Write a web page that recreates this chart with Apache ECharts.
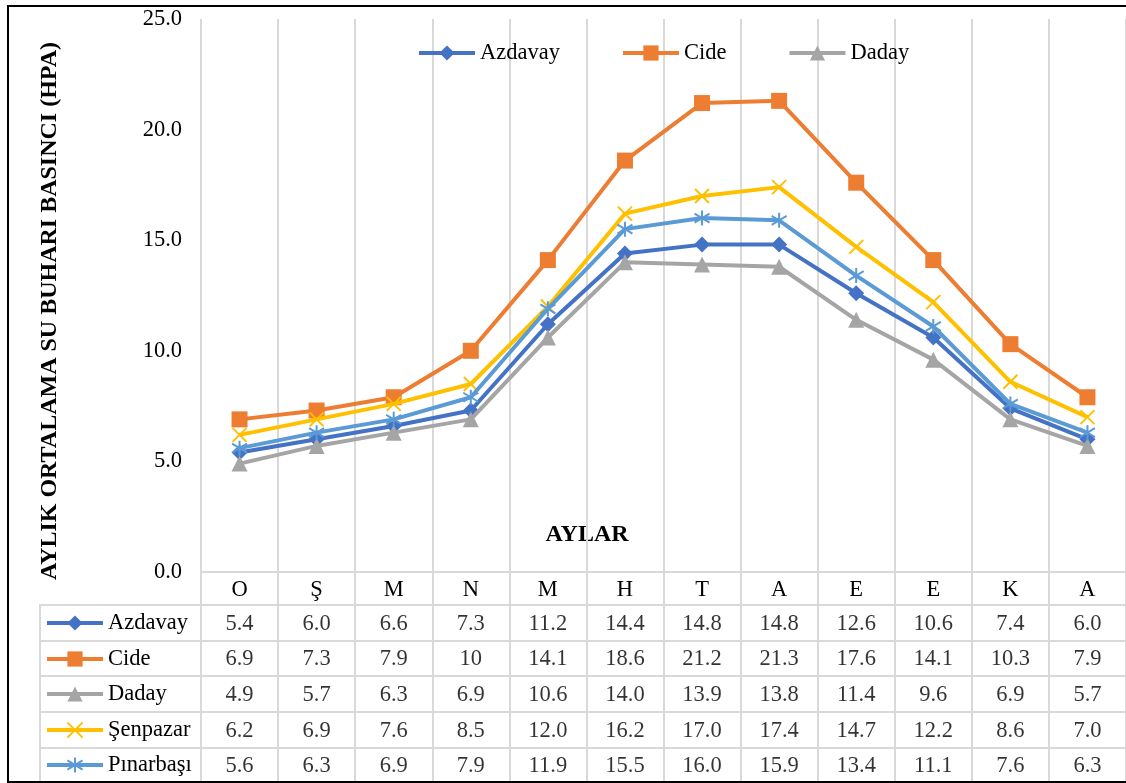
<!DOCTYPE html>
<html>
<head>
<meta charset="utf-8">
<script src="https://cdn.jsdelivr.net/npm/echarts@6/dist/echarts.min.js"></script>
<style>
html,body{margin:0;padding:0;background:#fff;}
#main{width:1126px;height:783px;}
</style>
</head>
<body>
<div id="main"></div>
<script>
// ---- data ----
var months = ['O', 'Ş', 'M', 'N', 'M', 'H', 'T', 'A', 'E', 'E', 'K', 'A'];
var seriesNames = ['Azdavay', 'Cide', 'Daday', 'Şenpazar', 'Pınarbaşı'];
var azdavay   = ['5.4', '6.0', '6.6', '7.3', '11.2', '14.4', '14.8', '14.8', '12.6', '10.6', '7.4', '6.0'];
var cide      = ['6.9', '7.3', '7.9', '10', '14.1', '18.6', '21.2', '21.3', '17.6', '14.1', '10.3', '7.9'];
var daday     = ['4.9', '5.7', '6.3', '6.9', '10.6', '14.0', '13.9', '13.8', '11.4', '9.6', '6.9', '5.7'];
var senpazar  = ['6.2', '6.9', '7.6', '8.5', '12.0', '16.2', '17.0', '17.4', '14.7', '12.2', '8.6', '7.0'];
var pinarbasi = ['5.6', '6.3', '6.9', '7.9', '11.9', '15.5', '16.0', '15.9', '13.4', '11.1', '7.6', '6.3'];
var yTitle = 'AYLIK ORTALAMA SU BUHARI BASINCI (HPA)';
var xTitle = 'AYLAR';

// ---- styling ----
var FONT = 'Liberation Serif';
var FS = 22.5;
var GRID_C = '#d9d9d9';
var allValues = [azdavay, cide, daday, senpazar, pinarbasi];
var colors = ['#4472C4', '#ED7D31', '#A5A5A5', '#FFC000', '#5B9BD5'];
var symbols = ['diamond', 'rect', 'triangle',
  'path://M0,0L10,10M10,0L0,10',
  'path://M5,0L5,10M0,2L10,8M0,8L10,2'];
var symbolSizes = [16, 16, 16, 14, 15];

var chart = echarts.init(document.getElementById('main'), null, {renderer: 'canvas'});

var lineSeries = seriesNames.map(function (name, k) {
  var strokeOnly = k >= 3;
  return {
    name: name,
    type: 'line',
    xAxisIndex: 0,
    yAxisIndex: 0,
    data: allValues[k].map(Number),
    symbol: symbols[k],
    symbolSize: symbolSizes[k],
    showAllSymbol: true,
    lineStyle: {width: 4, color: colors[k]},
    itemStyle: strokeOnly ? {color: colors[k], borderColor: colors[k], borderWidth: 2} : {color: colors[k], borderWidth: 0},
    z: 3 + k,
    animation: false
  };
});

var tableData = [];
allValues.forEach(function (arr, r) {
  arr.forEach(function (v, i) { tableData.push([i, r, v]); });
});

var rowCenters = [623, 659, 694, 730, 765];
var legendBase = {
  itemWidth: 56, itemHeight: 19, padding: 0, itemGap: 61,
  lineStyle: {width: 4},
  textStyle: {fontFamily: FONT, fontSize: FS, color: '#000', lineHeight: 26}
};
var legends = [Object.assign({}, legendBase, {
  data: ['Azdavay', 'Cide', 'Daday'], left: 417, top: 53 - 13
})];
seriesNames.forEach(function (n, k) {
  legends.push(Object.assign({}, legendBase, {
    data: [n], left: 45, top: rowCenters[k] - 13
  }));
});

var option = {
  backgroundColor: '#fff',
  animation: false,
  legend: legends,
  grid: [
    {left: 201, right: -1, top: 19, height: 553, containLabel: false},
    {left: 201, right: -1, top: 605, height: 178, show: true, borderColor: GRID_C, borderWidth: 2, backgroundColor: 'transparent'},
    {left: 40, width: 161, top: 605, height: 178, show: true, borderColor: GRID_C, borderWidth: 2, backgroundColor: 'transparent'}
  ],
  xAxis: [
    {
      gridIndex: 0, type: 'category', data: months, boundaryGap: true,
      axisLine: {show: true, lineStyle: {color: GRID_C, width: 2}},
      axisTick: {show: true, length: 33, interval: 0, lineStyle: {color: GRID_C, width: 2}},
      axisLabel: {interval: 0, margin: 7, color: '#000', fontFamily: FONT, fontSize: FS},
      splitLine: {show: true, interval: 0, lineStyle: {color: GRID_C, width: 2}}
    },
    {
      gridIndex: 1, type: 'category', data: months, boundaryGap: true,
      axisLine: {show: false}, axisTick: {show: false}, axisLabel: {show: false},
      splitLine: {show: true, interval: 0, lineStyle: {color: GRID_C, width: 2}}
    },
    {
      gridIndex: 2, type: 'category', data: ['n'], show: false
    }
  ],
  yAxis: [
    {
      gridIndex: 0, type: 'value', min: 0, max: 25, interval: 5,
      axisLine: {show: false}, axisTick: {show: false},
      splitLine: {show: false},
      axisLabel: {margin: 19, color: '#000', fontFamily: FONT, fontSize: FS,
        formatter: function (v) { return v.toFixed(1); }}
    },
    {
      gridIndex: 1, type: 'category', data: seriesNames, inverse: true, boundaryGap: true,
      axisLine: {show: false}, axisTick: {show: false}, axisLabel: {show: false},
      splitLine: {show: true, interval: 0, lineStyle: {color: GRID_C, width: 2}}
    },
    {
      gridIndex: 2, type: 'category', data: seriesNames, inverse: true, boundaryGap: true,
      axisLine: {show: false}, axisTick: {show: false}, axisLabel: {show: false},
      splitLine: {show: true, interval: 0, lineStyle: {color: GRID_C, width: 2}}
    }
  ],
  series: lineSeries.concat([{
    name: 'table',
    type: 'scatter',
    xAxisIndex: 1, yAxisIndex: 1,
    data: tableData,
    symbolSize: 0,
    silent: true,
    label: {
      show: true, position: 'inside', offset: [0, 1],
      formatter: function (p) { return p.value[2]; },
      color: '#000', fontFamily: FONT, fontSize: FS
    }
  }]),
  graphic: [
    {
      type: 'text', x: 50, y: 311, rotation: Math.PI / 2,
      style: {text: yTitle, fontFamily: FONT, fontSize: 24, fontWeight: 'bold', fill: '#000',
        align: 'center', verticalAlign: 'middle'}
    },
    {
      type: 'text', x: 587, y: 535,
      style: {text: xTitle, fontFamily: FONT, fontSize: 24, fontWeight: 'bold', fill: '#000',
        align: 'center', verticalAlign: 'middle'}
    },
    {
      type: 'rect', shape: {x: 8, y: 6, width: 1140, height: 776},
      style: {fill: 'none', stroke: '#000', lineWidth: 2}, silent: true, z: 100
    }
  ]
};
chart.setOption(option);
</script>
</body>
</html>
